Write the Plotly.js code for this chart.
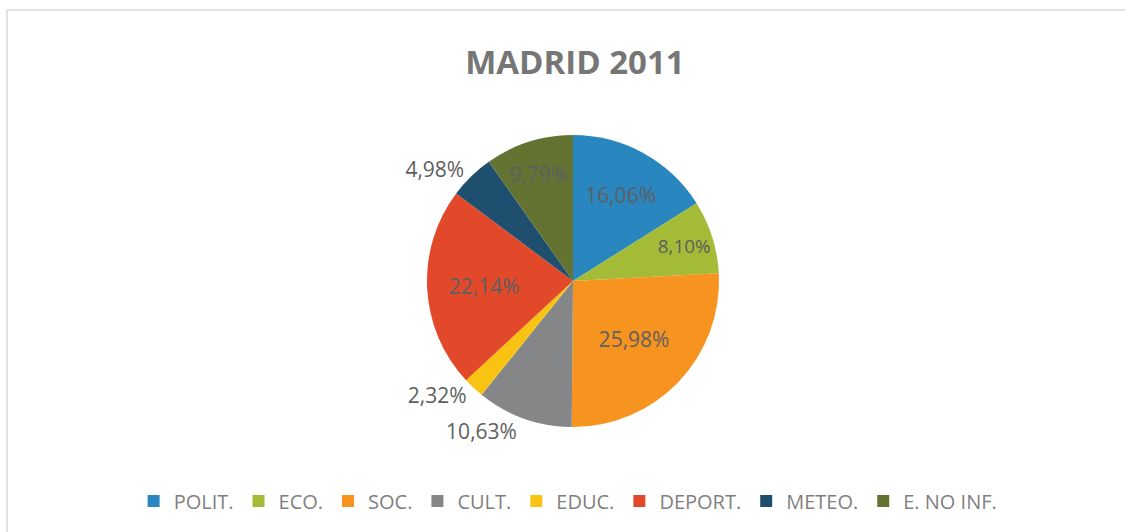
<!DOCTYPE html>
<html>
<head>
<meta charset="utf-8">
<script src="https://cdn.plot.ly/plotly-3.0.1.min.js"></script>
<style>
  html, body { margin: 0; padding: 0; background: #ffffff; }
  #chart { width: 1125px; height: 532px; }
</style>
</head>
<body>
<div id="chart"></div>
<script>
const categories = ['POLIT.', 'ECO.', 'SOC.', 'CULT.', 'EDUC.', 'DEPORT.', 'METEO.', 'E. NO INF.'];
const shares = [16.06, 8.10, 25.98, 10.63, 2.32, 22.14, 4.98, 9.79];
const sliceColors = ['#2986bf', '#a3bb37', '#f7941f', '#858688', '#f8c313', '#e2492a', '#1f4f6e', '#657332'];
const labelPlacement = ['inside', 'inside', 'inside', 'outside', 'outside', 'inside', 'outside', 'inside'];
const chartTitle = 'MADRID 2011';

const W = 1125, H = 532;
const cx = 573, cy = 281, r = 146;

const trace = {
  type: 'pie',
  labels: categories,
  values: shares,
  sort: false,
  direction: 'clockwise',
  rotation: 0,
  marker: { colors: sliceColors, line: { width: 0 } },
  texttemplate: '%{value:.2f}%',
  textposition: labelPlacement,
  insidetextorientation: 'horizontal',
  textfont: { family: 'Open Sans', size: 21, color: '#5f5f5f' },
  insidetextfont: { family: 'Open Sans', size: 21, color: '#5f5f5f' },
  outsidetextfont: { family: 'Open Sans', size: 21, color: '#5f5f5f' },
  hoverinfo: 'label+percent',
  domain: {
    x: [(cx - r) / W, (cx + r) / W],
    y: [(H - cy - r) / H, (H - cy + r) / H]
  }
};

const layout = {
  width: W,
  height: H,
  margin: { l: 0, r: 0, t: 0, b: 0 },
  paper_bgcolor: '#ffffff',
  plot_bgcolor: '#ffffff',
  separators: ',.',
  title: {
    text: '<b>' + chartTitle + '</b>',
    font: { family: 'Open Sans', size: 33, color: '#767676' },
    x: 0.511,
    xanchor: 'center',
    y: 1 - 62 / H,
    yanchor: 'middle'
  },
  showlegend: true,
  legend: {
    orientation: 'h',
    x: 0.505,
    xanchor: 'center',
    y: (H - 501) / H,
    yanchor: 'middle',
    font: { family: 'Open Sans', size: 20, color: '#7f7f7f' },
    traceorder: 'normal'
  },
  shapes: [
    { type: 'line', xref: 'paper', yref: 'paper', x0: 7 / W, x1: 1, y0: 1 - 10 / H, y1: 1 - 10 / H,
      line: { color: '#d9d9d9', width: 1.5 } },
    { type: 'line', xref: 'paper', yref: 'paper', x0: 7 / W, x1: 7 / W, y0: 0, y1: 1 - 10 / H,
      line: { color: '#d9d9d9', width: 1.5 } }
  ]
};

Plotly.newPlot('chart', [trace], layout, { displayModeBar: false, staticPlot: true });
</script>
</body>
</html>
